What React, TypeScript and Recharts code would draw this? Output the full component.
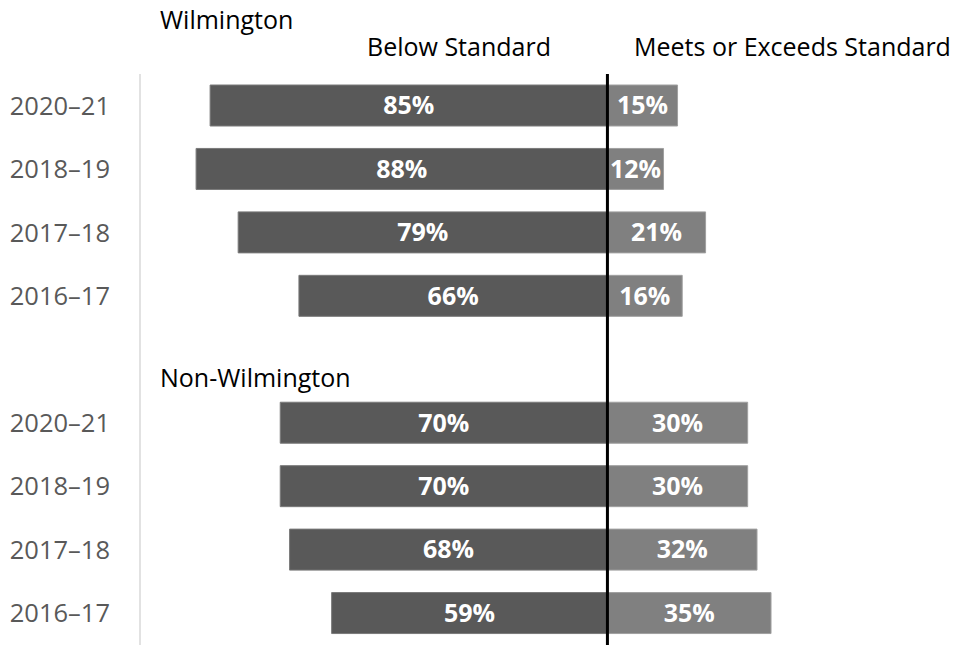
import { BarChart, Bar, XAxis, YAxis, ReferenceLine, LabelList } from "recharts";

const years = ["2020–21", "2018–19", "2017–18", "2016–17"];
const wilmingtonBelow = [85, 88, 79, 66];
const wilmingtonMeets = [15, 12, 21, 16];
const nonWilmingtonBelow = [70, 70, 68, 59];
const nonWilmingtonMeets = [30, 30, 32, 35];

const FONT = "'Open Sans', sans-serif";

interface Row {
  id: string;
  year: string;
  below: number | null;
  meets: number | null;
}

const rows: Row[] = [
  ...years.map((year, i) => ({
    id: `w${i}`,
    year,
    below: -wilmingtonBelow[i],
    meets: wilmingtonMeets[i],
  })),
  { id: "gap", year: "", below: null, meets: null },
  ...years.map((year, i) => ({
    id: `n${i}`,
    year,
    below: -nonWilmingtonBelow[i],
    meets: nonWilmingtonMeets[i],
  })),
];

function pct(v: unknown): string {
  if (v === null || v === undefined || v === "") return "";
  return `${Math.abs(Number(v))}%`;
}

function yearOf(id: string): string {
  const r = rows.find((row) => row.id === id);
  return r ? r.year : "";
}

const textStyle = {
  position: "absolute" as const,
  fontFamily: FONT,
  fontSize: 25,
  color: "#000",
  whiteSpace: "nowrap" as const,
  lineHeight: "25px",
};

export default function App() {
  return (
    <div style={{ position: "absolute", left: 0, top: 0, width: 961, height: 650 }}>
      <BarChart
        width={961}
        height={650}
        data={rows}
        layout="vertical"
        stackOffset="sign"
        barSize={41}
        margin={{ top: 74, right: 3, bottom: 5, left: 0 }}
      >
        <XAxis type="number" domain={[-100, 75]} hide />
        <YAxis
          type="category"
          dataKey="id"
          width={140}
          interval={0}
          tickFormatter={(v) => yearOf(String(v))}
          tickLine={false}
          tickSize={0}
          tickMargin={30}
          axisLine={{ stroke: "#d9d9d9", strokeWidth: 1.5 }}
          tick={{ fill: "#595959", fontSize: 25.5, fontFamily: FONT }}
        />
        <Bar dataKey="below" stackId="s" fill="#595959" stroke="#7a7a7a" strokeWidth={1} isAnimationActive={false}>
          <LabelList
            dataKey="below"
            position="center"
            formatter={pct}
            fill="#fff"
            fontSize={25}
            fontWeight="bold"
            fontFamily={FONT}
          />
        </Bar>
        <Bar dataKey="meets" stackId="s" fill="#808080" stroke="#a0a0a0" strokeWidth={1} isAnimationActive={false}>
          <LabelList
            dataKey="meets"
            position="center"
            formatter={pct}
            fill="#fff"
            fontSize={25}
            fontWeight="bold"
            fontFamily={FONT}
          />
        </Bar>
        <ReferenceLine x={0} stroke="#000" strokeWidth={3} />
      </BarChart>
      <div style={{ ...textStyle, left: 160, top: 7 }}>Wilmington</div>
      <div style={{ ...textStyle, left: 367, top: 34 }}>Below Standard</div>
      <div style={{ ...textStyle, left: 634, top: 34 }}>Meets or Exceeds Standard</div>
      <div style={{ ...textStyle, left: 160, top: 365 }}>Non-Wilmington</div>
    </div>
  );
}
